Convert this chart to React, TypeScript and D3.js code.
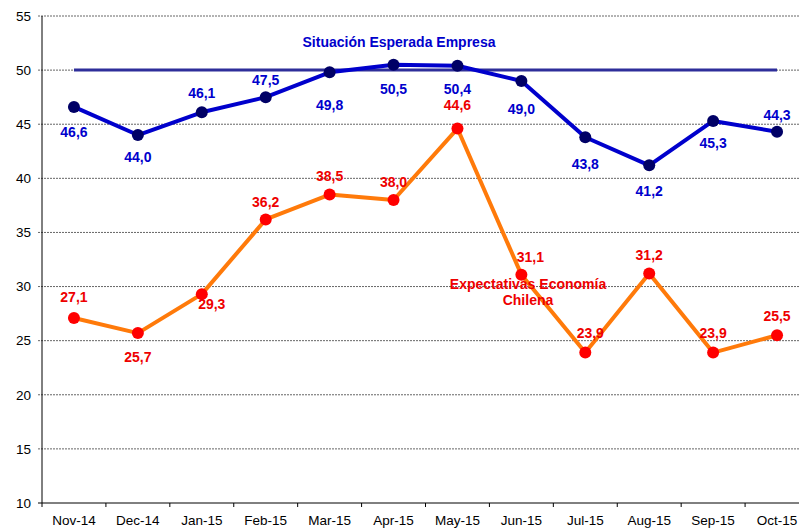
import React from "react";
import * as d3 from "d3";

const months = ["Nov-14", "Dec-14", "Jan-15", "Feb-15", "Mar-15", "Apr-15", "May-15", "Jun-15", "Jul-15", "Aug-15", "Sep-15", "Oct-15"];
const empresa = [46.6, 44.0, 46.1, 47.5, 49.8, 50.5, 50.4, 49.0, 43.8, 41.2, 45.3, 44.3];
const economia = [27.1, 25.7, 29.3, 36.2, 38.5, 38.0, 44.6, 31.1, 23.9, 31.2, 23.9, 25.5];
const neutral = [50, 50, 50, 50, 50, 50, 50, 50, 50, 50, 50, 50];
const yTicks = [10, 15, 20, 25, 30, 35, 40, 45, 50, 55];

// label placement (layout, not data)
const empresaLabelDy = [25, 22, -19, -17, 33, 24, 23, 28, 27, 26, 22, -17];
const economiaLabelDx = [0, 0, 10, 0, 0, 0, 0, 9, 5, 0, 0, 0];
const economiaLabelDy = [-21, 24, 10, -17, -18, -18, -23, -18, -19, -18, -19, -19];

const W = 799, H = 529;
const left = 42, right = 809, top = 16, bottom = 503;

export default function App() {
  const x = d3.scaleBand<string>().domain(months).range([left, right]).padding(0);
  const cx = (m: string) => (x(m) as number) + x.bandwidth() / 2;
  const y = d3.scaleLinear().domain([10, 55]).range([bottom, top]);
  const line = d3.line<number>().x((_, i) => cx(months[i])).y((v) => y(v));
  const font = "'Liberation Sans', Arial, sans-serif";
  const blueLbl = "#0000CC";
  const redLbl = "#EE0000";
  const fmt = (v: number) => d3.format(".1f")(v).replace(".", ",");

  return (
    <svg width={W} height={H} style={{ position: "absolute", left: 0, top: 0, background: "#fff" }} fontFamily={font}>
      {yTicks.filter((t) => t > 10).map((t) => (
        <line key={t} x1={left - 4} x2={W} y1={y(t)} y2={y(t)} stroke="#666" strokeWidth={1} strokeDasharray="2,1" />
      ))}
      {yTicks.map((t) => (
        <text key={"yt" + t} x={31} y={y(t)} dy="0.35em" textAnchor="end" fontSize={13.5} fill="#000">{t}</text>
      ))}
      <line x1={left} x2={left} y1={top} y2={bottom} stroke="#000" strokeWidth={1} />
      <line x1={left - 4} x2={right} y1={bottom} y2={bottom} stroke="#000" strokeWidth={1} />
      {months.map((m) => (
        <g key={m}>
          <line x1={(x(m) as number) + x.bandwidth()} x2={(x(m) as number) + x.bandwidth()} y1={bottom} y2={bottom + 4} stroke="#000" />
          <text x={cx(m)} y={bottom + 22} textAnchor="middle" fontSize={13.5} fill="#000">{m}</text>
        </g>
      ))}
      <line x1={left} x2={left} y1={bottom} y2={bottom + 4} stroke="#000" />

      <path d={line(neutral) as string} fill="none" stroke="#2E2E9A" strokeWidth={3} />

      <path d={line(economia) as string} fill="none" stroke="#FF7A0A" strokeWidth={4} strokeLinejoin="round" />
      {economia.map((v, i) => (
        <circle key={"e" + i} cx={cx(months[i])} cy={y(v)} r={6} fill="#FF0000" />
      ))}

      <path d={line(empresa) as string} fill="none" stroke="#0000CC" strokeWidth={4} strokeLinejoin="round" />
      {empresa.map((v, i) => (
        <circle key={"b" + i} cx={cx(months[i])} cy={y(v)} r={6} fill="#000066" />
      ))}

      {empresa.map((v, i) => (
        <text key={"bl" + i} x={cx(months[i])} y={y(v) + empresaLabelDy[i]} dy="0.35em" textAnchor="middle" fontSize={14} fontWeight="bold" fill={blueLbl}>
          {fmt(v)}
        </text>
      ))}
      {economia.map((v, i) => (
        <text key={"el" + i} x={cx(months[i]) + economiaLabelDx[i]} y={y(v) + economiaLabelDy[i]} dy="0.35em" textAnchor="middle" fontSize={14} fontWeight="bold" fill={redLbl}>
          {fmt(v)}
        </text>
      ))}

      <text x={399} y={42} dy="0.35em" textAnchor="middle" fontSize={14} fontWeight="bold" fill={blueLbl}>Situación Esperada Empresa</text>
      <text x={528} y={284} dy="0.35em" textAnchor="middle" fontSize={14} fontWeight="bold" fill={redLbl}>Expectativas Economía</text>
      <text x={528} y={300} dy="0.35em" textAnchor="middle" fontSize={14} fontWeight="bold" fill={redLbl}>Chilena</text>
    </svg>
  );
}
